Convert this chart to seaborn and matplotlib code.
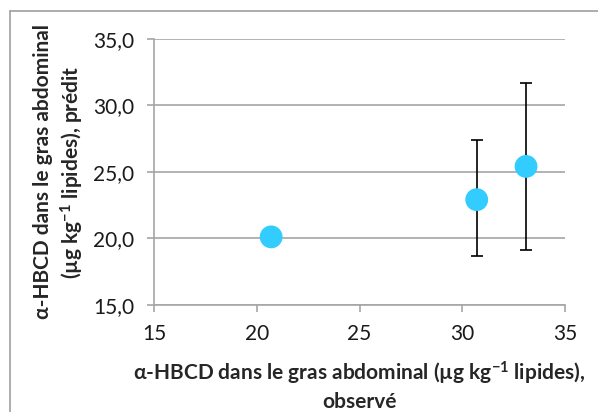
import matplotlib
matplotlib.use("Agg")
import numpy as np
import pandas as pd
import matplotlib.pyplot as plt
import seaborn as sns
from matplotlib.lines import Line2D
from matplotlib.ticker import FuncFormatter

# observed vs predicted alpha-HBCD
observed = [20.7, 30.7, 33.1]
predicted = [20.1, 22.9, 25.4]
err_low = [np.nan, 18.7, 19.1]
err_high = [np.nan, 27.4, 31.7]

x_ticks = [15, 20, 25, 30, 35]
y_ticks = [15, 20, 25, 30, 35]

df = pd.DataFrame({"obs": observed, "pred": predicted, "lo": err_low, "hi": err_high})

sns.set_style("white")
plt.rcParams["font.family"] = ["Lato", "DejaVu Sans"]
plt.rcParams["mathtext.fontset"] = "custom"
plt.rcParams["mathtext.rm"] = "Lato:bold"
plt.rcParams["mathtext.it"] = "Lato:bold"
plt.rcParams["mathtext.bf"] = "Lato:bold"

fig = plt.figure(figsize=(5.98, 4.12), dpi=100)
ax = fig.add_axes([0.2575, 0.2604, 0.6875, 0.6456])

# error bars first, then markers on top
yerr = np.array([df["pred"] - df["lo"], df["hi"] - df["pred"]])
ax.errorbar(df["obs"], df["pred"], yerr=yerr, fmt="none", ecolor="black",
            elinewidth=1.2, capsize=4, capthick=1.2, zorder=3)
sns.scatterplot(data=df, x="obs", y="pred", ax=ax, s=270, color="#33CCFF",
                edgecolor="none", zorder=4, legend=False)

ax.set_xlim(15, 35)
ax.set_ylim(15, 35)
ax.set_xticks(x_ticks)
ax.set_yticks(y_ticks)
ax.yaxis.set_major_formatter(FuncFormatter(lambda v, p: f"{v:.1f}".replace(".", ",")))
ax.grid(axis="y", color="#a6a6a6", lw=1.2)
ax.grid(axis="x", visible=False)
ax.set_axisbelow(True)

for s in ["top", "right"]:
    ax.spines[s].set_visible(False)
for s in ["left", "bottom"]:
    ax.spines[s].set_color("#a6a6a6")
    ax.spines[s].set_linewidth(1.2)

ax.tick_params(axis="both", which="major", direction="out", length=5, width=1.2,
               color="#a6a6a6", labelsize=15, labelcolor="#1a1a1a")
ax.tick_params(axis="x", bottom=True, pad=9)
ax.tick_params(axis="y", left=True, pad=9)

ax.set_xlabel("α-HBCD dans le gras abdominal (µg kg$^{-1}$ lipides),\nobservé",
              fontsize=15, fontweight="bold", labelpad=11, linespacing=1.35)
ax.set_ylabel("α-HBCD dans le gras abdominal\n(µg kg$^{-1}$ lipides), prédit",
              fontsize=15, fontweight="bold", labelpad=5, linespacing=1.3)

# chart area frame (top and left edges visible)
fig.add_artist(Line2D([10 / 598, 1.0], [1 - 10.5 / 412, 1 - 10.5 / 412],
                      transform=fig.transFigure, color="#a0a0a0", lw=1.2))
fig.add_artist(Line2D([10 / 598, 10 / 598], [0.0, 1 - 10.5 / 412],
                      transform=fig.transFigure, color="#a0a0a0", lw=1.2))

fig.savefig("out.png", dpi=100)
